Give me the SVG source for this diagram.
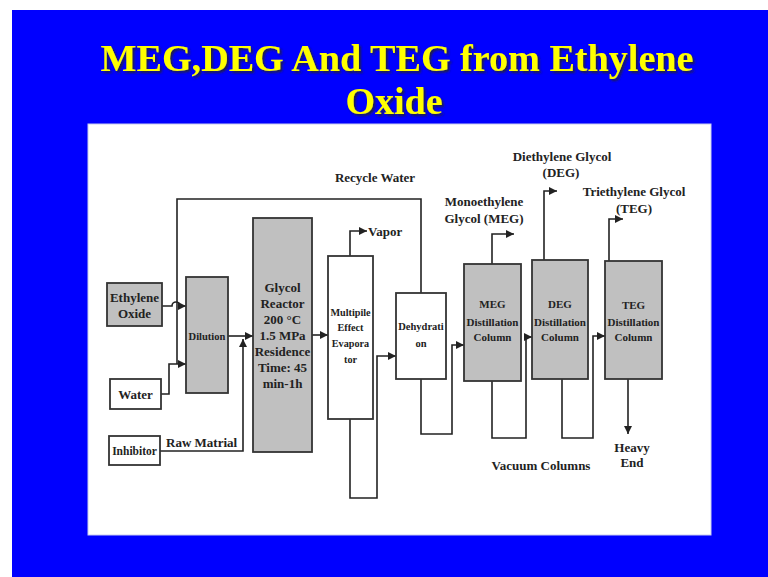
<svg xmlns="http://www.w3.org/2000/svg" width="768" height="577" viewBox="0 0 768 577">
<style>
.bg{fill:#0000ff}
.panel{fill:#ffffff;stroke:#c8ccf0;stroke-width:1}
.box{stroke:#333;stroke-width:1.8}
.g{fill:#c0c0c0}
.w{fill:#ffffff}
.ln{fill:none;stroke:#222;stroke-width:1.6}
text{font-family:"Liberation Serif","Times New Roman",serif;font-weight:bold;fill:#222;text-anchor:middle}
.lbl{font-size:13px}
.t13{font-size:13px}
.t11{font-size:11px}
.t10{font-size:10.2px}
.title{font-size:38px;fill:#ffff00;filter:url(#sh)}
.start{text-anchor:start}
</style>
<defs>
<filter id="sh" x="-5%" y="-20%" width="110%" height="150%">
<feDropShadow dx="2" dy="2" stdDeviation="0.8" flood-color="#202030" flood-opacity="0.9"/>
</filter>
<marker id="ah" markerUnits="userSpaceOnUse" markerWidth="9" markerHeight="8" refX="8" refY="4" orient="auto">
<path d="M0,0 L8,4 L0,8 z" fill="#222"/>
</marker>
</defs>
<rect class="bg" x="12" y="10" width="756" height="567"/>
<g id="title">
<text class="title" x="397" y="71" textLength="593" lengthAdjust="spacingAndGlyphs">MEG,DEG And TEG from Ethylene</text>
<text class="title" x="394" y="114">Oxide</text>
</g>
<rect class="panel" x="88" y="124" width="623" height="411"/>
<g id="connectors">
<path class="ln" d="M162,306 H172 A4,4 0 0 1 180,306 H186" marker-end="url(#ah)"/>
<path class="ln" d="M421,293 V199 H177 V364"/>
<path class="ln" d="M161,394 H169 V364 H186" marker-end="url(#ah)"/>
<path class="ln" d="M160,451 H243 V339" marker-end="url(#ah)"/>
<path class="ln" d="M228,336 H253" marker-end="url(#ah)"/>
<path class="ln" d="M312,335 H328" marker-end="url(#ah)"/>
<path class="ln" d="M350,256 V231 H367" marker-end="url(#ah)"/>
<path class="ln" d="M350,419 V498 H377 V356 H396" marker-end="url(#ah)"/>
<path class="ln" d="M421,379 V434 H452 V345 H464" marker-end="url(#ah)"/>
<path class="ln" d="M492,264 V234 H514" marker-end="url(#ah)"/>
<path class="ln" d="M492,381 V438 H526 V337 H532" marker-end="url(#ah)"/>
<path class="ln" d="M544,260 V191 H557" marker-end="url(#ah)"/>
<path class="ln" d="M562,379 V438 H593 V336 H605" marker-end="url(#ah)"/>
<path class="ln" d="M609,261 V219 H623" marker-end="url(#ah)"/>
<path class="ln" d="M628,379 V434" marker-end="url(#ah)"/>
</g>
<g id="labels">
<text class="lbl" x="375" y="182">Recycle Water</text>
<text class="lbl start" x="166" y="447">Raw Matrial</text>
<text class="lbl start" x="368" y="236">Vapor</text>
<text class="lbl" x="484" y="206">Monoethylene</text>
<text class="lbl" x="484" y="223">Glycol (MEG)</text>
<text class="lbl" x="562" y="161">Diethylene Glycol</text>
<text class="lbl" x="561" y="177">(DEG)</text>
<text class="lbl" x="634" y="196">Triethylene Glycol</text>
<text class="lbl" x="634" y="213">(TEG)</text>
<text class="lbl" x="632" y="452">Heavy</text>
<text class="lbl" x="632" y="467">End</text>
<text class="lbl" x="541" y="470">Vacuum Columns</text>
</g>
<g id="ethylene-oxide">
<rect class="box g" x="107" y="283" width="55" height="43"/>
<text class="t13" x="134.5" y="302">Ethylene</text>
<text class="t13" x="134.5" y="318">Oxide</text>
</g>
<g id="water">
<rect class="box w" x="110" y="379" width="51" height="30"/>
<text class="t13" x="135.5" y="398.5">Water</text>
</g>
<g id="inhibitor">
<rect class="box w" x="109" y="436" width="51" height="29"/>
<text x="134.5" y="455" style="font-size:11.5px">Inhibitor</text>
</g>
<g id="dilution">
<rect class="box g" x="186" y="277" width="42" height="116"/>
<text x="207" y="340" style="font-size:10.5px">Dilution</text>
</g>
<g id="reactor">
<rect class="box g" x="253" y="218" width="59" height="234"/>
<text class="t13" x="282.5" y="291.5">Glycol</text>
<text class="t13" x="282.5" y="307.5">Reactor</text>
<text class="t13" x="282.5" y="323.5">200 °C</text>
<text class="t13" x="282.5" y="339.5">1.5 MPa</text>
<text class="t13" x="282.5" y="356">Residence</text>
<text class="t13" x="282.5" y="371.5">Time: 45</text>
<text class="t13" x="282.5" y="387.5">min-1h</text>
</g>
<g id="evaporator">
<rect class="box w" x="328" y="256" width="45" height="163"/>
<text class="t10" x="350.5" y="315.5">Multipile</text>
<text class="t10" x="350.5" y="331">Effect</text>
<text class="t10" x="350.5" y="347">Evapora</text>
<text class="t10" x="350.5" y="363">tor</text>
</g>
<g id="dehydration">
<rect class="box w" x="396" y="293" width="50" height="86"/>
<text x="421" y="329.5" style="font-size:10.5px">Dehydrati</text>
<text x="421" y="346.5" style="font-size:10.5px">on</text>
</g>
<g id="meg-column">
<rect class="box g" x="464" y="264" width="57" height="117"/>
<text class="t11" x="492.5" y="308">MEG</text>
<text class="t11" x="492.5" y="326">Distillation</text>
<text class="t11" x="492.5" y="341">Column</text>
</g>
<g id="deg-column">
<rect class="box g" x="532" y="260" width="56" height="119"/>
<text class="t11" x="560" y="308">DEG</text>
<text class="t11" x="560" y="326">Distillation</text>
<text class="t11" x="560" y="341">Column</text>
</g>
<g id="teg-column">
<rect class="box g" x="605" y="261" width="57" height="118"/>
<text class="t11" x="633.5" y="309">TEG</text>
<text class="t11" x="633.5" y="326">Distillation</text>
<text class="t11" x="633.5" y="341">Column</text>
</g>
</svg>
